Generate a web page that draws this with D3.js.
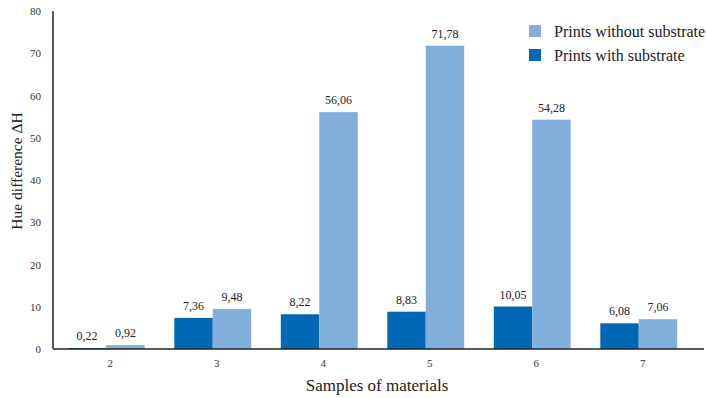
<!DOCTYPE html>
<html><head><meta charset="utf-8">
<script src="https://cdn.jsdelivr.net/npm/d3@7"></script>
<style>body{margin:0;background:#fff}svg{display:block}</style>
</head><body>
<script>
const categories = ["2","3","4","5","6","7"];
const withSubstrate = [0.22, 7.36, 8.22, 8.83, 10.05, 6.08];
const withoutSubstrate = [0.92, 9.48, 56.06, 71.78, 54.28, 7.06];
const yTicks = [0,10,20,30,40,50,60,70,80];
const seriesNames = ["Prints with substrate","Prints without substrate"];
const colors = {"Prints with substrate":"#0068b4","Prints without substrate":"#82aedb"};

const W=706,H=398;
const svg=d3.select("body").append("svg").attr("width",W).attr("height",H);
const font="Liberation Serif, Times New Roman, serif";
const x=d3.scaleBand().domain(categories).range([53,692]).paddingInner(0.278).paddingOuter(0.139);
const xs=d3.scaleBand().domain(seriesNames).range([0,x.bandwidth()]);
const y=d3.scaleLinear().domain([0,80]).range([349,11]);

const data=categories.map((c,i)=>({c,vals:[{s:seriesNames[0],v:withSubstrate[i]},{s:seriesNames[1],v:withoutSubstrate[i]}]}));
const g=svg.selectAll("g.grp").data(data).enter().append("g").attr("transform",d=>`translate(${x(d.c)},0)`);
g.selectAll("rect").data(d=>d.vals).enter().append("rect")
 .attr("x",d=>xs(d.s)).attr("width",xs.bandwidth())
 .attr("y",d=>y(d.v)).attr("height",d=>y(0)-y(d.v)).attr("fill",d=>colors[d.s]);
g.selectAll("text").data(d=>d.vals).enter().append("text")
 .attr("x",d=>xs(d.s)+xs.bandwidth()/2).attr("y",d=>y(d.v)-8)
 .attr("text-anchor","middle").attr("font-family",font).attr("font-size",12).attr("fill","#222")
 .text(d=>d3.format(".2f")(d.v).replace(".",","));

// axes
const ya=svg.append("g").attr("transform","translate(53,0)")
 .call(d3.axisLeft(y).tickValues(yTicks).tickSize(0).tickPadding(12));
ya.attr("font-family",font);
ya.select(".domain").attr("stroke","#222").attr("stroke-width",1.5).attr("d","M0,349V11");
ya.selectAll("text").attr("font-family",font).attr("font-size",11).attr("fill","#333");
const xa=svg.append("g").attr("transform","translate(0,349)")
 .call(d3.axisBottom(x).tickSize(0).tickPadding(10));
xa.attr("font-family",font);
xa.select(".domain").attr("stroke","#222").attr("stroke-width",1.5).attr("d","M53,0H704");
xa.selectAll("text").attr("font-family",font).attr("font-size",11).attr("fill","#333").attr("dx",4);

svg.append("text").attr("x",377).attr("y",391).attr("text-anchor","middle")
 .attr("font-family",font).attr("font-size",17).attr("fill","#222").text("Samples of materials");
svg.append("text").attr("transform","translate(22,171) rotate(-90)").attr("text-anchor","middle")
 .attr("font-family",font).attr("font-size",15.5).attr("fill","#222").text("Hue difference ΔH");

// legend
const leg=[seriesNames[1],seriesNames[0]];
const lg=svg.selectAll("g.leg").data(leg).enter().append("g").attr("transform",(d,i)=>`translate(529,${25+i*24})`);
lg.append("rect").attr("width",12).attr("height",12).attr("fill",d=>colors[d]);
lg.append("text").attr("x",25).attr("y",11.5).attr("font-family",font).attr("font-size",16).attr("fill","#222").text(d=>d);
</script>
</body></html>
